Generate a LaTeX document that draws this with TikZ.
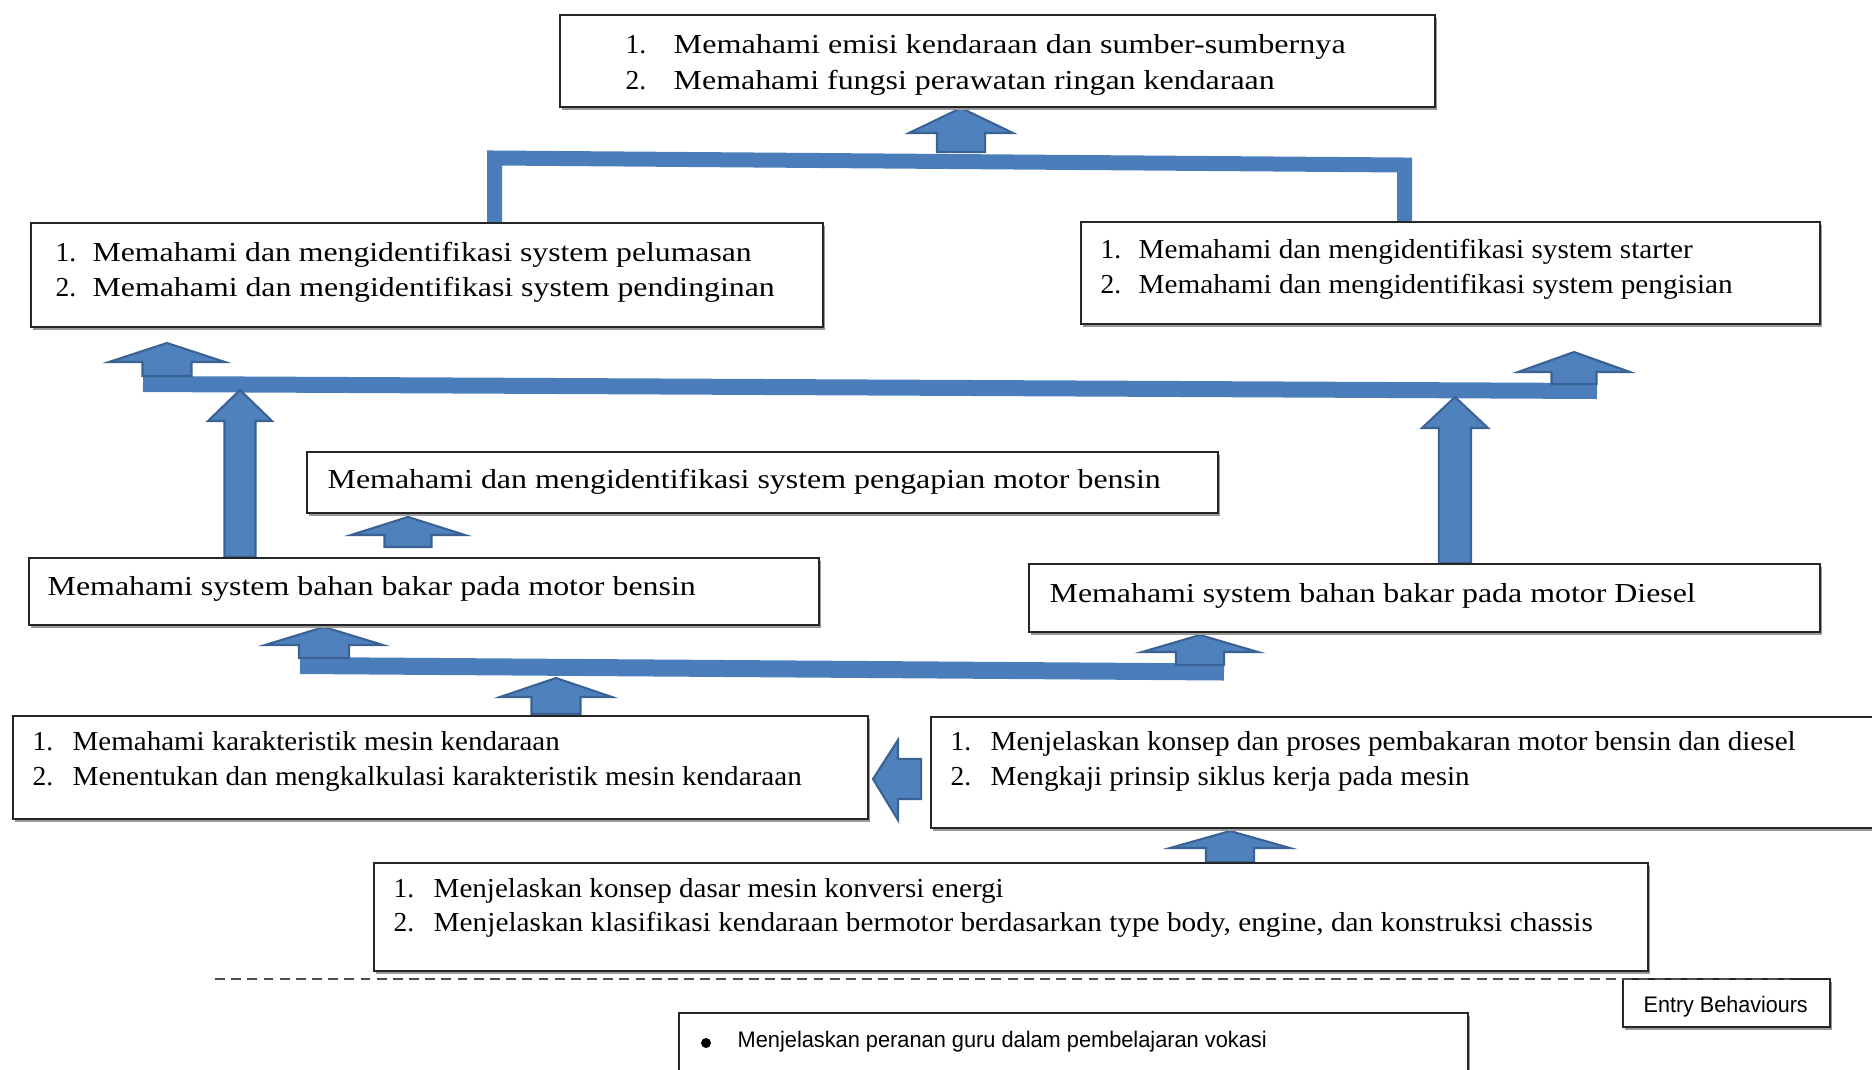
\documentclass[tikz,border=0pt]{standalone}
\usepackage{fontspec}
\setmainfont{Liberation Serif}
\setsansfont{Liberation Sans}
\usepackage{graphicx}
\usetikzlibrary{shadows}
\newlength\pxu \setlength\pxu{0.01cm}
\definecolor{blueF}{HTML}{4F81BD}
\definecolor{blueD}{HTML}{3A6294}
\definecolor{barC}{HTML}{4A7DBA}
\newcommand\sw[2]{\resizebox{#1\pxu}{\height}{#2}}
\newcommand\uparr[6]{\path[barr] (#1-#4,#2) -- (#1-#4,#3+#6) -- (#1-#5,#3+#6) -- (#1,#3) -- (#1+#5,#3+#6) -- (#1+#4,#3+#6) -- (#1+#4,#2) -- cycle;}
\newcommand\boxat[5]{\node[boxst, minimum width=#4\pxu, minimum height=#5\pxu] (#1) at (#2,#3) {};}
\tikzset{
  boxst/.style={draw=black!85, fill=white, line width=0.6pt, anchor=north west, inner sep=0pt,
    drop shadow={shadow xshift=0.5pt, shadow yshift=-0.7pt, fill=black!40, opacity=1}},
  txt/.style={anchor=base west, inner sep=0pt, font=\fontsize{7.8}{9}\selectfont},
  stxt/.style={anchor=base west, inner sep=0pt, font=\sffamily\fontsize{6.4}{8}\selectfont},
  barr/.style={fill=blueF, draw=blueD, line width=0.6pt, line join=miter},
  barst/.style={draw=barC, line cap=butt, line join=miter},
  dashst/.style={draw=black!70, line width=0.6pt, dash pattern=on 2.8pt off 1.8pt}
}
\begin{document}
\begin{tikzpicture}[x=0.01cm,y=-0.01cm]
\useasboundingbox (0,0) rectangle (1872,1069);
\clip (0,0) rectangle (1872,1069);
% connector bars
\draw[barst, line width=15\pxu] (494.5,222) -- (494.5,158) -- (1404.5,165) -- (1404.5,221);
\draw[barst, line width=16\pxu] (143,384) -- (1597,391);
\draw[barst, line width=17\pxu] (300,665.5) -- (1224,672);
% block arrows
\uparr{961}{152}{108}{24}{52}{25}
\uparr{167}{376}{343}{24.5}{58}{19}
\uparr{1574}{384}{352}{22.5}{56}{20}
\uparr{240}{557}{390}{15.5}{32}{31}
\uparr{1455}{563}{397}{16}{33}{31}
\uparr{408}{547}{517}{23.5}{57}{18}
\uparr{324}{658}{627}{25}{59}{18}
\uparr{1200}{665}{635}{24}{58}{17}
\uparr{556}{714}{678}{24.5}{56}{19}
\uparr{1230}{862}{831}{24}{60}{17}
\path[barr] (873,779) -- (898,740) -- (898,759) -- (921,759) -- (921,799) -- (898,799) -- (898,820) -- cycle;
% boxes
\boxat{T}{559}{14}{875}{92}
\boxat{L2}{30}{222}{792}{104}
\boxat{R2}{1080}{221}{739}{102}
\boxat{P}{306}{451}{911}{61}
\boxat{B}{28}{557}{790}{67}
\boxat{D}{1028}{563}{791}{68}
\boxat{K}{12}{715}{855}{103}
\boxat{S}{930}{716}{990}{111}
\boxat{Z}{373}{862}{1274}{108}
\boxat{E}{1622}{978}{207}{48}
\boxat{V}{678}{1012}{789}{100}
\draw[dashst] (215,979) -- (1790,979);
% texts
\node[txt] (t1n) at (625,53) {1.};
\node[txt] (t1) at (673,53) {\sw{672}{Memahami emisi kendaraan dan sumber-sumbernya}};
\node[txt] (t2n) at (625,89) {2.};
\node[txt] (t2) at (673,89) {\sw{601}{Memahami fungsi perawatan ringan kendaraan}};
\node[txt] (l1n) at (55,261) {1.};
\node[txt] (l1) at (92,261) {\sw{659}{Memahami dan mengidentifikasi system pelumasan}};
\node[txt] (l2n) at (55,296) {2.};
\node[txt] (l2) at (92,296) {\sw{682}{Memahami dan mengidentifikasi system pendinginan}};
\node[txt] (r1n) at (1100,258) {1.};
\node[txt] (r1) at (1138,258) {\sw{554}{Memahami dan mengidentifikasi system starter}};
\node[txt] (r2n) at (1100,293) {2.};
\node[txt] (r2) at (1138,293) {\sw{594}{Memahami dan mengidentifikasi system pengisian}};
\node[txt] (p1) at (327,488) {\sw{833}{Memahami dan mengidentifikasi system pengapian motor bensin}};
\node[txt] (b1) at (47,595) {\sw{648}{Memahami system bahan bakar pada motor bensin}};
\node[txt] (d1) at (1049,602) {\sw{646}{Memahami system bahan bakar pada motor Diesel}};
\node[txt] (k1n) at (32,750) {1.};
\node[txt] (k1) at (72,750) {\sw{487}{Memahami karakteristik mesin kendaraan}};
\node[txt] (k2n) at (32,785) {2.};
\node[txt] (k2) at (72,785) {\sw{729}{Menentukan dan mengkalkulasi karakteristik mesin kendaraan}};
\node[txt] (s1n) at (950,750) {1.};
\node[txt] (s1) at (990,750) {\sw{805}{Menjelaskan konsep dan proses pembakaran motor bensin dan diesel}};
\node[txt] (s2n) at (950,785) {2.};
\node[txt] (s2) at (990,785) {\sw{479}{Mengkaji prinsip siklus kerja pada mesin}};
\node[txt] (z1n) at (393,897) {1.};
\node[txt] (z1) at (433,897) {\sw{570}{Menjelaskan konsep dasar mesin konversi energi}};
\node[txt] (z2n) at (393,931) {2.};
\node[txt] (z2) at (433,931) {\sw{1159}{Menjelaskan klasifikasi kendaraan bermotor berdasarkan type body, engine, dan konstruksi chassis}};
\node[stxt] (e1) at (1643,1012) {\sw{164}{Entry Behaviours}};
\fill[black] (706,1043) circle (5);
\node[stxt] (v1) at (737,1047) {\sw{529}{Menjelaskan peranan guru dalam pembelajaran vokasi}};
\end{tikzpicture}
\end{document}
